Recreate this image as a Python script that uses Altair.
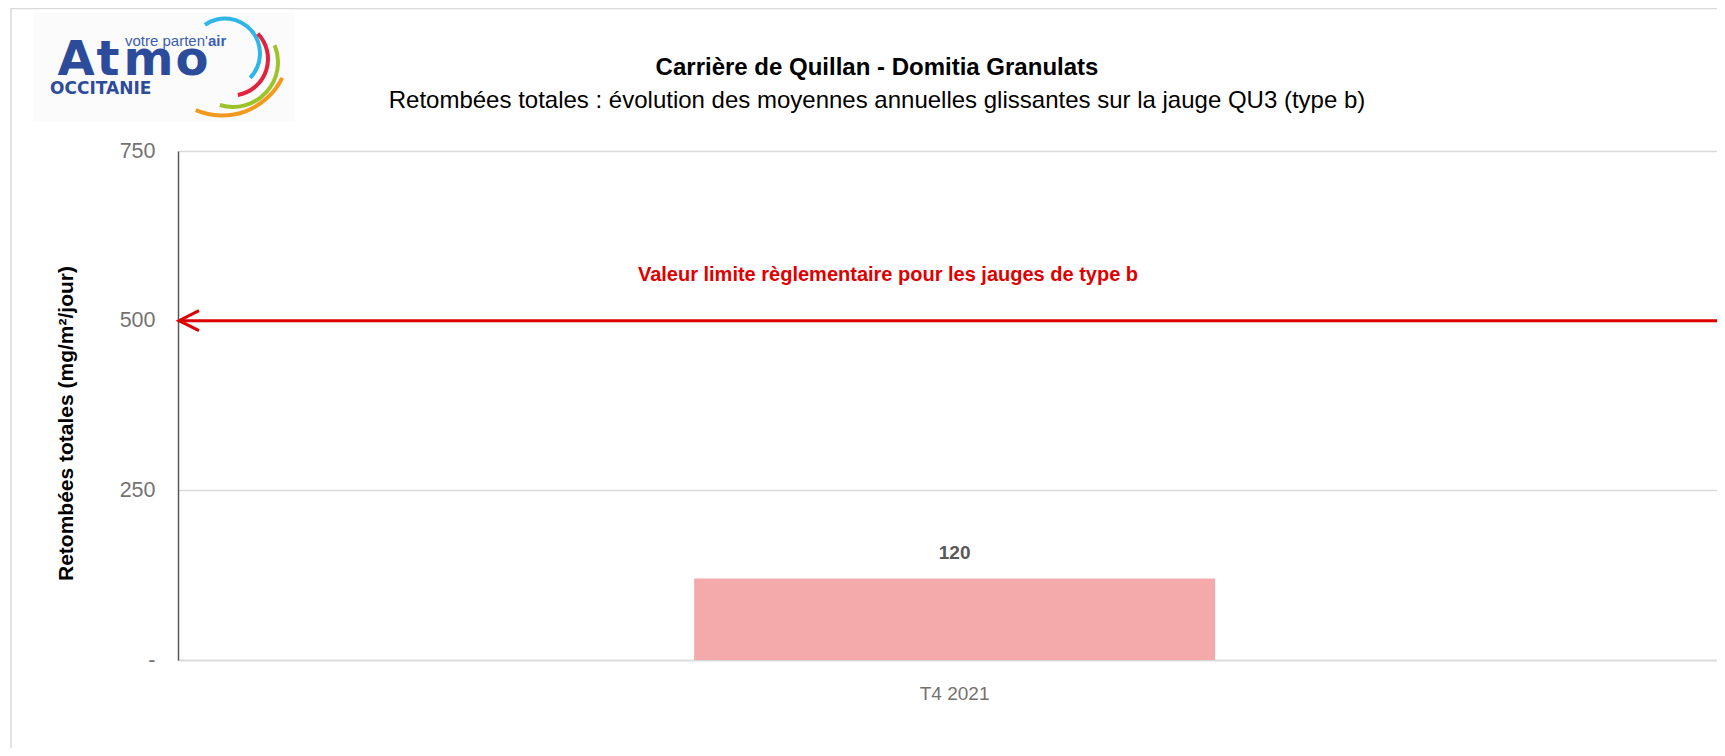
import math
import altair as alt
import pandas as pd

# ---- data ----
categories = ["T4 2021"]
values = [120]
limit_value = 500
y_ticks = [0, 250, 500, 750]
title_text = "Carrière de Quillan - Domitia Granulats"
subtitle_text = "Retombées totales : évolution des moyennes annuelles glissantes sur la jauge QU3 (type b)"
limit_label = "Valeur limite règlementaire pour les jauges de type b"
y_title = "Retombées totales (mg/m²/jour)"

FONT = "Liberation Sans, Arial"
W, H = 1539, 509
RED = "#DD0000"

df = pd.DataFrame({"cat": categories, "val": values})
one = pd.DataFrame({"k": [0]})

x_enc = alt.X("cat:N", title=None,
              scale=alt.Scale(paddingInner=0, paddingOuter=0.977, align=0.507),
              axis=alt.Axis(labelAngle=0, labelFontSize=19, labelColor="#767171", labelFont=FONT,
                            ticks=False, domainColor="#d9d9d9", domainWidth=1.5,
                            labelPadding=24, grid=False))
y_enc = alt.Y("val:Q", title=y_title,
              scale=alt.Scale(domain=[0, 750], nice=False),
              axis=alt.Axis(values=y_ticks, labelExpr="datum.value == 0 ? '-' : datum.label",
                            labelFontSize=21.5, labelColor="#767171", labelFont=FONT, labelPadding=23,
                            ticks=False, domainColor="#595959", domainWidth=1.5,
                            grid=True, gridColor="#d9d9d9", gridWidth=1.3,
                            titleFont=FONT, titleFontSize=21, titleFontWeight="bold", titleColor="#000000",
                            titleX=-112, titleY=272, titleAngle=-90, titleAlign="center",
                            titleBaseline="middle"))

bars = alt.Chart(df).mark_bar(color="#F4AAAA").encode(x=x_enc, y=y_enc)
bar_labels = alt.Chart(df).mark_text(fontSize=19, fontWeight="bold", color="#595959", font=FONT,
                                     dy=-26).encode(x="cat:N", y="val:Q", text="val:Q")

limit_rule = alt.Chart(one).mark_rule(color=RED, strokeWidth=3).encode(
    y=alt.datum(limit_value), x=alt.value(1), x2=alt.value(W))
arrow = alt.Chart(one).mark_point(shape="M1,-1L-1,0L1,1", filled=False, stroke=RED, strokeWidth=3,
                                  size=400, opacity=1).encode(
    y=alt.datum(limit_value), x=alt.value(11))
limit_text = alt.Chart(one).mark_text(text=limit_label, fontSize=20, fontWeight="bold", color="#E00000",
                                      font=FONT).encode(x=alt.value(710), y=alt.value(124))

title1 = alt.Chart(one).mark_text(text=title_text, fontSize=24, fontWeight="bold", color="#000000",
                                  font=FONT).encode(x=alt.value(699), y=alt.value(-83))
title2 = alt.Chart(one).mark_text(text=subtitle_text, fontSize=24, color="#000000",
                                  font=FONT).encode(x=alt.value(699), y=alt.value(-50))

# outer frame
frame_left = alt.Chart(one).mark_rule(color="#d9d9d9", strokeWidth=1.5).encode(
    x=alt.value(-167), y=alt.value(-143), y2=alt.value(610))
frame_top = alt.Chart(one).mark_rule(color="#d9d9d9", strokeWidth=1.5).encode(
    x=alt.value(-167), x2=alt.value(W), y=alt.value(-142.5))

# logo (drawn, image not available offline)
OX, OY = 178, 151
logo_bg = alt.Chart(one).mark_rect(color="#fbfbfb").encode(
    x=alt.value(33 - OX), x2=alt.value(295 - OX), y=alt.value(13 - OY), y2=alt.value(122 - OY))
BLUE = "#2D4B9B"

def letter(ch, cx):
    return alt.Chart(one).mark_text(text=ch, fontSize=48, fontWeight="bold", color=BLUE,
                                    font="DejaVu Sans", align="center", baseline="alphabetic").encode(
        x=alt.value(cx - OX), y=alt.value(75 - OY))

atmo = [letter("A", 76), letter("t", 108), letter("m", 148.5), letter("o", 192)]
votre = alt.Chart(one).mark_text(text="votre parten'", fontSize=15, color="#3A5FB0",
                                 font="Liberation Sans", align="left", baseline="alphabetic").encode(
    x=alt.value(125 - OX), y=alt.value(46 - OY))
air = alt.Chart(one).mark_text(text="air", fontSize=15, fontWeight="bold", color="#3A5FB0",
                               font="Liberation Sans", align="left", baseline="alphabetic").encode(
    x=alt.value(208 - OX), y=alt.value(46 - OY))
occ = alt.Chart(one).mark_text(text="OCCITANIE", fontSize=17, fontWeight="bold", color=BLUE,
                               font="DejaVu Sans", align="left", baseline="alphabetic").encode(
    x=alt.value(50 - OX), y=alt.value(94 - OY))

def arc(cx, cy, r, t1, t2, color):
    return alt.Chart(one).mark_arc(color=color).encode(
        x=alt.value(cx - OX), y=alt.value(cy - OY),
        radius=alt.value(r - 2), radius2=alt.value(r + 2),
        theta=alt.value(math.radians(t1)), theta2=alt.value(math.radians(t2)))

arcs = [
    arc(225, 53.5, 35, 325, 494, "#2EB6E8"),
    arc(231.5, 59, 36.5, 46, 170, "#E2233B"),
    arc(233, 62, 45, 68, 197, "#9CC42A"),
    arc(222, 48.5, 67, 116, 203, "#F39A1E"),
]

chart = alt.layer(
    frame_left, frame_top, logo_bg, *atmo, votre, air, occ, *arcs,
    bars, bar_labels, limit_rule, arrow, limit_text, title1, title2
).properties(
    width=W, height=H,
    autosize=alt.AutoSizeParams(type="none"),
    padding={"left": 170, "top": 143, "right": 0, "bottom": 88},
    background="white",
).configure_view(strokeWidth=0)

chart.save("out.html", embed_options={"renderer": "svg", "actions": False})
